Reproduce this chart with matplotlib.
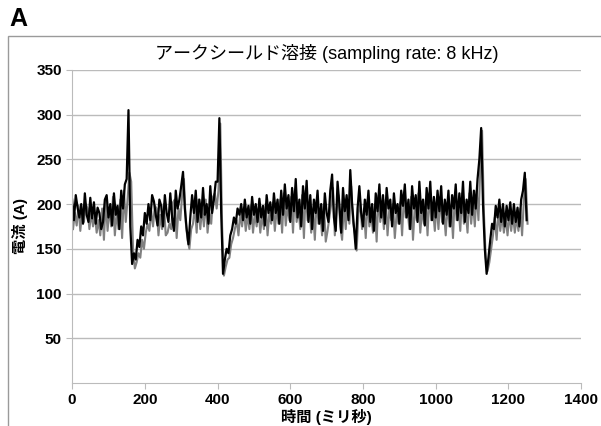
import numpy as np
import matplotlib
matplotlib.use("Agg")
import matplotlib.pyplot as plt
from matplotlib.patches import Rectangle

plt.rcParams['font.family'] = ['Liberation Sans', 'Noto Sans CJK JP', 'DejaVu Sans']

# sampling step of the traces (ms); the gray trace is read half a step later
step_ms = 5
gray_offset_ms = 2.5

# black trace (A)
black = [
    205, 182, 210, 196, 185, 200, 178, 212, 188, 180, 207, 184, 202, 178, 196, 190, 172, 180, 205, 210,
    185, 200, 176, 212, 188, 198, 172, 215, 195, 222, 228, 305, 175, 133, 145, 138, 160, 152, 175, 165,
    190, 178, 200, 182, 210, 203, 188, 176, 205, 198, 175, 210, 190, 180, 212, 185, 170, 215, 195, 205,
    220, 236, 195, 172, 155, 185, 210, 190, 215, 180, 205, 185, 218, 188, 200, 178, 220, 190, 205, 225,
    225, 296, 190, 122, 138, 150, 145, 165, 172, 185, 178, 195, 188, 200, 182, 205, 185, 198, 178, 208,
    188, 200, 180, 206, 185, 198, 176, 210, 190, 202, 182, 212, 190, 205, 178, 215, 188, 222, 195, 210,
    180, 218, 192, 228, 185, 205, 175, 220, 195, 226, 180, 210, 172, 205, 190, 215, 178, 200, 170, 212,
    190, 180, 215, 233, 185, 170, 225, 200, 168, 218, 192, 210, 182, 238, 200, 175, 150, 195, 220, 190,
    175, 205, 188, 215, 180, 200, 170, 212, 192, 222, 185, 210, 178, 218, 195, 205, 175, 212, 190, 200,
    178, 215, 198, 222, 185, 205, 172, 220, 195, 210, 180, 225, 190, 205, 176, 218, 195, 225, 182, 208,
    185, 215, 192, 220, 178, 205, 188, 215, 175, 210, 195, 222, 182, 212, 190, 225, 180, 205, 190, 225,
    188, 215, 195, 228, 250, 285, 200, 150, 122, 140, 160, 178, 172, 198, 185, 205, 180, 200, 175, 198,
    182, 202, 178, 200, 180, 196, 175, 205, 215, 235, 182,
]

# gray trace (A)
gray = [
    172, 190, 176, 198, 170, 192, 180, 200, 195, 172, 190, 175, 188, 168, 182, 165, 195, 160, 205, 170,
    195, 175, 208, 165, 190, 172, 205, 162, 215, 180, 205, 235, 225, 150, 128, 135, 145, 140, 160, 150,
    168, 178, 170, 192, 175, 198, 195, 165, 188, 172, 200, 165, 168, 178, 172, 202, 205, 162, 195, 182,
    210, 228, 180, 160, 150, 172, 178, 198, 168, 205, 172, 195, 175, 205, 168, 190, 178, 208, 212, 195,
    215, 290, 175, 120, 130, 138, 140, 155, 162, 172, 182, 165, 190, 175, 195, 170, 188, 172, 198, 168,
    190, 175, 195, 168, 188, 172, 200, 165, 190, 178, 202, 170, 195, 178, 205, 168, 212, 176, 198, 182,
    208, 168, 215, 180, 195, 172, 210, 162, 215, 182, 200, 168, 195, 160, 205, 178, 190, 165, 200, 158,
    170, 185, 200, 218, 165, 195, 210, 175, 160, 200, 172, 205, 178, 220, 180, 168, 148, 190, 200, 172,
    195, 162, 205, 175, 188, 168, 200, 158, 210, 180, 198, 172, 205, 165, 195, 182, 200, 162, 190, 178,
    202, 165, 210, 185, 195, 172, 208, 160, 198, 182, 212, 168, 195, 178, 205, 165, 212, 182, 195, 170,
    202, 172, 208, 180, 192, 165, 202, 175, 198, 162, 210, 182, 200, 170, 212, 178, 192, 168, 212, 178,
    202, 175, 215, 182, 240, 282, 190, 140, 125, 135, 150, 165, 185, 160, 192, 170, 188, 168, 186, 165,
    190, 170, 188, 168, 185, 170, 195, 165, 205, 228, 178,
]

x_ticks = [0, 200, 400, 600, 800, 1000, 1200, 1400]
y_ticks = [50, 100, 150, 200, 250, 300, 350]

t_black = np.arange(len(black)) * step_ms
t_gray = np.arange(len(gray)) * step_ms + gray_offset_ms

fig = plt.figure(figsize=(6.01, 4.26), dpi=100)
ax = fig.add_axes([0.12, 0.101, 0.847, 0.735])

# panel frame and letter
fig.patches.append(Rectangle((8 / 601, -0.05), 1.1, 1 - 36 / 426 + 0.05,
                             transform=fig.transFigure, fill=False,
                             edgecolor='#9a9a9a', linewidth=1.0))
fig.text(9 / 601, 1 - 19 / 426, 'A', fontsize=18, fontweight='bold', va='center', ha='left')

ax.plot(t_gray, gray, color='#808080', linewidth=1.5)
ax.plot(t_black, black, color='black', linewidth=1.6)

ax.set_xlim(0, 1400)
ax.set_ylim(0, 350)
ax.set_xticks(x_ticks)
ax.set_yticks(y_ticks)
ax.grid(axis='y', color='#bbbbbb', linewidth=1.0)
ax.set_axisbelow(True)

for s in ['top', 'right']:
    ax.spines[s].set_visible(False)
for s in ['left', 'bottom']:
    ax.spines[s].set_color('#bbbbbb')
ax.tick_params(colors='#bbbbbb', labelcolor='black', length=4, labelsize=11)
for lbl in ax.get_xticklabels() + ax.get_yticklabels():
    lbl.set_fontweight('bold')

ax.set_title('アークシールド溶接 (sampling rate: 8 kHz)', fontsize=13, pad=8)
ax.set_xlabel('時間 (ミリ秒)', fontsize=11, fontweight='bold', labelpad=1)
ax.set_ylabel('電流 (A)', fontsize=11, fontweight='bold', labelpad=6)

fig.savefig('out.png', dpi=100)
